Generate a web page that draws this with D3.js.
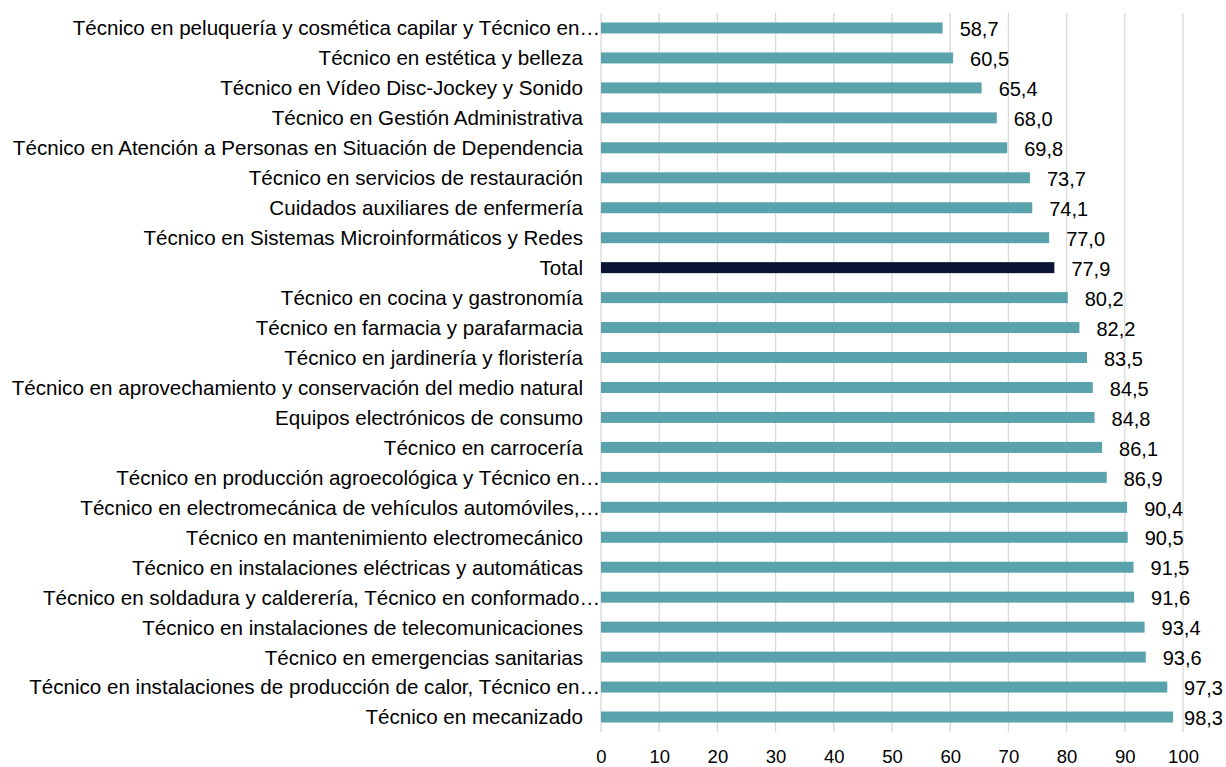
<!DOCTYPE html>
<html>
<head>
<meta charset="utf-8">
<script src="https://cdn.jsdelivr.net/npm/d3@7"></script>
<style>
  html, body { margin: 0; padding: 0; background: #fff; }
  svg { display: block; font-family: "Liberation Sans", Arial, Helvetica, sans-serif; }
</style>
</head>
<body>
<svg id="chart" width="1226" height="767"></svg>
<script>
const categories = [
  "Técnico en peluquería y cosmética capilar y Técnico en…",
  "Técnico en estética y belleza",
  "Técnico en Vídeo Disc-Jockey y Sonido",
  "Técnico en Gestión Administrativa",
  "Técnico en Atención a Personas en Situación de Dependencia",
  "Técnico en servicios de restauración",
  "Cuidados auxiliares de enfermería",
  "Técnico en Sistemas Microinformáticos y Redes",
  "Total",
  "Técnico en cocina y gastronomía",
  "Técnico en farmacia y parafarmacia",
  "Técnico en jardinería y floristería",
  "Técnico en aprovechamiento y conservación del medio natural",
  "Equipos electrónicos de consumo",
  "Técnico en carrocería",
  "Técnico en producción agroecológica y Técnico en…",
  "Técnico en electromecánica de vehículos automóviles,…",
  "Técnico en mantenimiento electromecánico",
  "Técnico en instalaciones eléctricas y automáticas",
  "Técnico en soldadura y calderería, Técnico en conformado…",
  "Técnico en instalaciones de telecomunicaciones",
  "Técnico en emergencias sanitarias",
  "Técnico en instalaciones de producción de calor, Técnico en…",
  "Técnico en mecanizado"
];
const values = [58.7, 60.5, 65.4, 68.0, 69.8, 73.7, 74.1, 77.0, 77.9, 80.2, 82.2, 83.5,
                84.5, 84.8, 86.1, 86.9, 90.4, 90.5, 91.5, 91.6, 93.4, 93.6, 97.3, 98.3];
const tickValues = [0, 10, 20, 30, 40, 50, 60, 70, 80, 90, 100];
const highlight = "Total";

const data = categories.map((c, i) => ({ cat: c, val: values[i] }));

const svg = d3.select("#chart");
const W = 1226;
const plot = { left: 601, right: 1183, top: 13, bottom: 732 };

const x = d3.scaleLinear().domain([0, 100]).range([plot.left, plot.right]);
const y = d3.scaleBand().domain(categories).range([plot.top, plot.bottom]).paddingInner(0.633).paddingOuter(0.3165);

// gridlines
svg.append("g")
  .selectAll("line")
  .data(tickValues)
  .join("line")
  .attr("x1", d => x(d)).attr("x2", d => x(d))
  .attr("y1", plot.top).attr("y2", plot.bottom)
  .attr("stroke", "#d9d9d9")
  .attr("stroke-width", 1.3);

// x axis tick labels
const xAxis = d3.axisBottom(x).tickValues(tickValues).tickSize(0).tickPadding(0).tickFormat(d3.format("d"));
const gx = svg.append("g").attr("transform", `translate(0, ${plot.bottom})`).call(xAxis);
gx.select(".domain").remove();
gx.selectAll("text")
  .attr("y", 0)
  .attr("dy", 0)
  .attr("transform", "translate(0, 31)")
  .attr("font-size", "18.5px")
  .attr("font-family", "Liberation Sans, Arial, sans-serif")
  .attr("fill", "#000");

// bars
svg.append("g")
  .selectAll("rect")
  .data(data)
  .join("rect")
  .attr("x", x(0))
  .attr("y", d => y(d.cat))
  .attr("width", d => x(d.val) - x(0))
  .attr("height", y.bandwidth())
  .attr("fill", d => d.cat === highlight ? "#0c1434" : "#5ba3ac");

// category labels
svg.append("g")
  .selectAll("text")
  .data(data)
  .join("text")
  .attr("x", d => d.cat.endsWith("…") ? 600 : 583)
  .attr("y", d => y(d.cat) + y.bandwidth() / 2)
  .attr("dy", "0.36em")
  .attr("text-anchor", "end")
  .attr("font-size", "20.6px")
  .attr("fill", "#000")
  .text(d => d.cat);

// value labels
const fmt = v => d3.format(".1f")(v).replace(".", ",");
const vl = svg.append("g")
  .selectAll("text")
  .data(data)
  .join("text")
  .attr("y", d => y(d.cat) + y.bandwidth() / 2 + 1)
  .attr("dy", "0.36em")
  .attr("text-anchor", "start")
  .attr("font-size", "20px")
  .attr("fill", "#000")
  .text(d => fmt(d.val));
vl.each(function(d) {
  const w = this.getComputedTextLength();
  const px = Math.min(x(d.val) + 17, W - 3 - w);
  d3.select(this).attr("x", px);
});
</script>
</body>
</html>
